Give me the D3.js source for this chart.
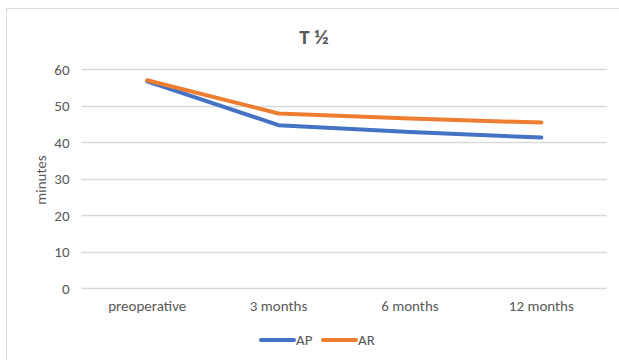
<!DOCTYPE html>
<html>
<head>
<meta charset="utf-8">
<script src="https://cdn.jsdelivr.net/npm/d3@7"></script>
<style>
  html, body { margin: 0; padding: 0; background: #fff; }
  svg { display: block; font-family: Carlito, "Open Sans", Lato, sans-serif; }
</style>
</head>
<body>
<svg id="chart" width="619" height="360"></svg>
<script>
// Half-time (T ½) in minutes at each follow-up visit
const categories = ["preoperative", "3 months", "6 months", "12 months"];
const apValues = [56.7, 44.7, 42.8, 41.3];
const arValues = [57.0, 47.9, 46.5, 45.4];
const yTicks = [0, 10, 20, 30, 40, 50, 60];
const seriesNames = ["AP", "AR"];
const seriesColors = ["#4472C4", "#ED7D31"];

const FONT = "Carlito, 'Open Sans', Lato, sans-serif";
const svg = d3.select("#chart");
const plot = { left: 81.5, right: 607, top: 69.3, bottom: 288.3 };

// Chart frame
svg.append("rect")
  .attr("x", 6.5).attr("y", 8.5)
  .attr("width", 620).attr("height", 360)
  .attr("fill", "#fff").attr("stroke", "#d9d9d9").attr("stroke-width", 1);

const x = d3.scaleBand().domain(categories).range([plot.left, plot.right]);
const y = d3.scaleLinear().domain([0, 60]).range([plot.bottom, plot.top]);

// Horizontal gridlines
svg.append("g")
  .selectAll("line").data(yTicks).join("line")
  .attr("x1", plot.left).attr("x2", plot.right)
  .attr("y1", d => Math.round(y(d)) + 0.5).attr("y2", d => Math.round(y(d)) + 0.5)
  .attr("stroke", "#d9d9d9").attr("stroke-width", 1.3);

// Y axis labels
const yAxis = d3.axisLeft(y).tickValues(yTicks).tickSize(0).tickPadding(12);
const gy = svg.append("g").attr("transform", `translate(${plot.left},0)`).call(yAxis);
gy.select(".domain").remove();
gy.selectAll("text").attr("fill", "#595959").style("font-size", "15px")
  .style("font-family", FONT);

// X axis labels
const xAxis = d3.axisBottom(x).tickSize(0).tickPadding(12);
const gx = svg.append("g").attr("transform", `translate(0,${plot.bottom})`).call(xAxis);
gx.select(".domain").remove();
gx.selectAll("text").attr("fill", "#595959").style("font-size", "15px")
  .style("font-family", FONT);

// Series lines
const line = d3.line()
  .x((d, i) => x(categories[i]) + x.bandwidth() / 2)
  .y(d => y(d));

[apValues, arValues].forEach((vals, k) => {
  svg.append("path")
    .datum(vals)
    .attr("d", line)
    .attr("fill", "none")
    .attr("stroke", seriesColors[k])
    .attr("stroke-width", 4)
    .attr("stroke-linecap", "round")
    .attr("stroke-linejoin", "round");
});

// Title
svg.append("text")
  .attr("x", 314).attr("y", 44)
  .attr("text-anchor", "middle")
  .attr("fill", "#595959")
  .style("font-size", "21px").style("font-weight", "bold")
  .text("T ½");

// Y axis title
svg.append("text")
  .attr("transform", "translate(46,180) rotate(-90)")
  .attr("text-anchor", "middle")
  .attr("fill", "#595959")
  .style("font-size", "15px")
  .text("minutes");

// Legend
const legendX = [261, 323];
const legend = svg.append("g");
seriesNames.forEach((name, i) => {
  legend.append("line")
    .attr("x1", legendX[i]).attr("x2", legendX[i] + 33)
    .attr("y1", 340).attr("y2", 340)
    .attr("stroke", seriesColors[i]).attr("stroke-width", 4)
    .attr("stroke-linecap", "round");
  legend.append("text")
    .attr("x", legendX[i] + 35).attr("y", 345)
    .attr("fill", "#595959")
    .style("font-size", "15px")
    .text(name);
});
</script>
</body>
</html>
